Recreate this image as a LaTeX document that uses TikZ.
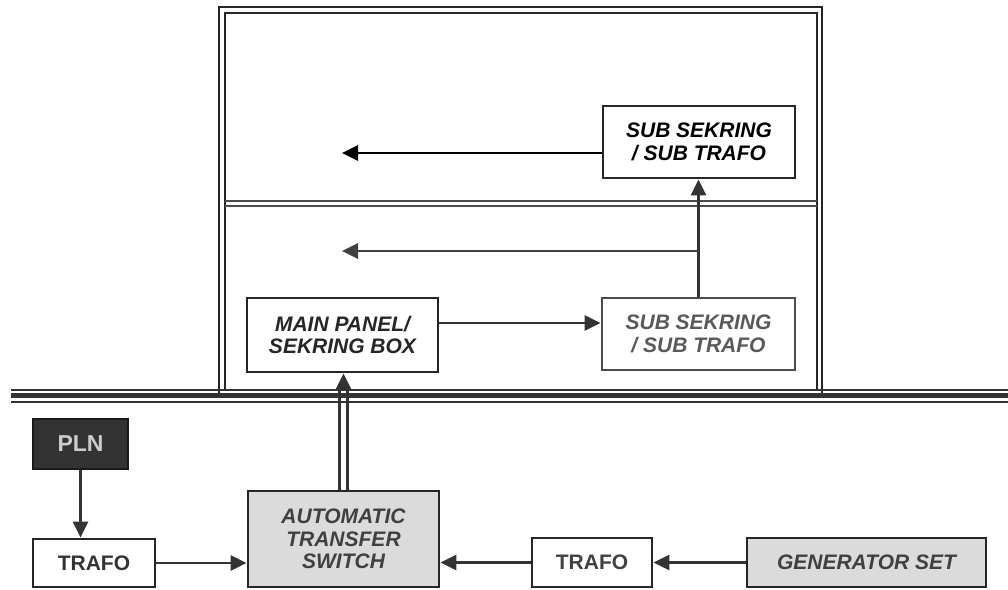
\documentclass[tikz,border=0pt]{standalone}
\usepackage{fontspec}
\setmainfont{Liberation Sans}
\usetikzlibrary{arrows.meta}
\begin{document}
\begin{tikzpicture}[x=1pt,y=-1pt,
  box/.style={draw=black!85,line width=2.8pt,rectangle,align=center,inner sep=0pt,
    font=\bfseries\itshape\fontsize{21}{22.5}\selectfont},
  plainbox/.style={box,font=\bfseries\fontsize{21}{22.5}\selectfont},
  shaded/.style={fill=black!14},
  arr/.style={draw=black!80,line width=2.8pt,-{Triangle[length=16pt,width=15pt]}},
  wall/.style={draw=black!85,line width=2.6pt},
  ground/.style={draw=black!80}
]
\useasboundingbox (0,0) rectangle (1008,589);
\fill[white] (0,0) rectangle (1008,589);

% building walls
\draw[wall] (219,396) -- (219,7) -- (822,7) -- (822,396);
\draw[wall] (225,389) -- (225,13) -- (817,13) -- (817,389);
% floor divider
\draw[wall,draw=black!70] (225,201) -- (817,201);
\draw[wall,draw=black!70] (225,206) -- (817,206);
% ground line
\draw[ground,line width=2.2pt] (11,390) -- (1008,390);
\draw[ground,line width=4.5pt] (11,395.5) -- (1008,395.5);
\draw[ground,line width=2.2pt] (11,402) -- (1008,402);

% nodes
\node[box,fill=white,minimum width=192pt,minimum height=72pt,text=black] (topsub) at (699,142) {SUB SEKRING\\/ SUB TRAFO};
\node[box,fill=white,draw=black!70,minimum width=193pt,minimum height=72pt,text=black!65] (lowsub) at (698.5,334) {SUB SEKRING\\/ SUB TRAFO};
\node[box,fill=white,minimum width=191pt,minimum height=74pt,text=black!85] (mp) at (342.5,335) {MAIN PANEL/\\SEKRING BOX};
\node[box,shaded,minimum width=191pt,minimum height=96pt,text=black!75] (ats) at (343.5,539) {AUTOMATIC\\TRANSFER\\SWITCH};
\node[plainbox,fill=white,minimum width=122pt,minimum height=48pt,text=black!80] (trafoL) at (94,563) {TRAFO};
\node[plainbox,fill=white,minimum width=120pt,minimum height=49pt,text=black!75] (trafoM) at (592,562.5) {TRAFO};
\node[box,shaded,minimum width=239pt,minimum height=49pt,text=black!75] (gen) at (866.5,562.5) {GENERATOR SET};
\node[plainbox,fill=black!80,draw=black!90,minimum width=95pt,minimum height=50pt,text=black!20,
  font=\bfseries\fontsize{23}{24}\selectfont] (pln) at (80.5,444) {PLN};

% free ends
\coordinate (a1) at (342,153);
\coordinate (a2) at (342,251);
\coordinate (br) at (698.5,251);

% connectors upper
\draw[arr,draw=black] ([yshift=-11pt]topsub.west) -- ([yshift=-11pt]topsub.west -| a1);
\draw[arr] ([yshift=12pt]mp.east) -- ([yshift=12pt]mp.east -| lowsub.west);
\draw[arr] (lowsub.north) -- (lowsub.north |- topsub.south);
\draw[arr,draw=black!75] (br) -- (a2);

% ATS -> main panel (double line)
\draw[draw=black!80,line width=2.6pt] ([xshift=-3.8pt]ats.north) -- ([xshift=-3.8pt,yshift=-14pt]ats.north |- mp.south);
\draw[draw=black!80,line width=2.6pt] ([xshift=3.8pt]ats.north) -- ([xshift=3.8pt,yshift=-14pt]ats.north |- mp.south);
\draw[arr,draw=black!80] ([yshift=-17pt]ats.north |- mp.south) -- (ats.north |- mp.south);

% connectors lower
\draw[arr] (pln.south) -- (pln.south |- trafoL.north);
\draw[arr] (trafoL.east) -- (trafoL.east -| ats.west);
\draw[arr] (trafoM.west) -- (trafoM.west -| ats.east);
\draw[arr] (gen.west) -- (trafoM.east);
\end{tikzpicture}
\end{document}
